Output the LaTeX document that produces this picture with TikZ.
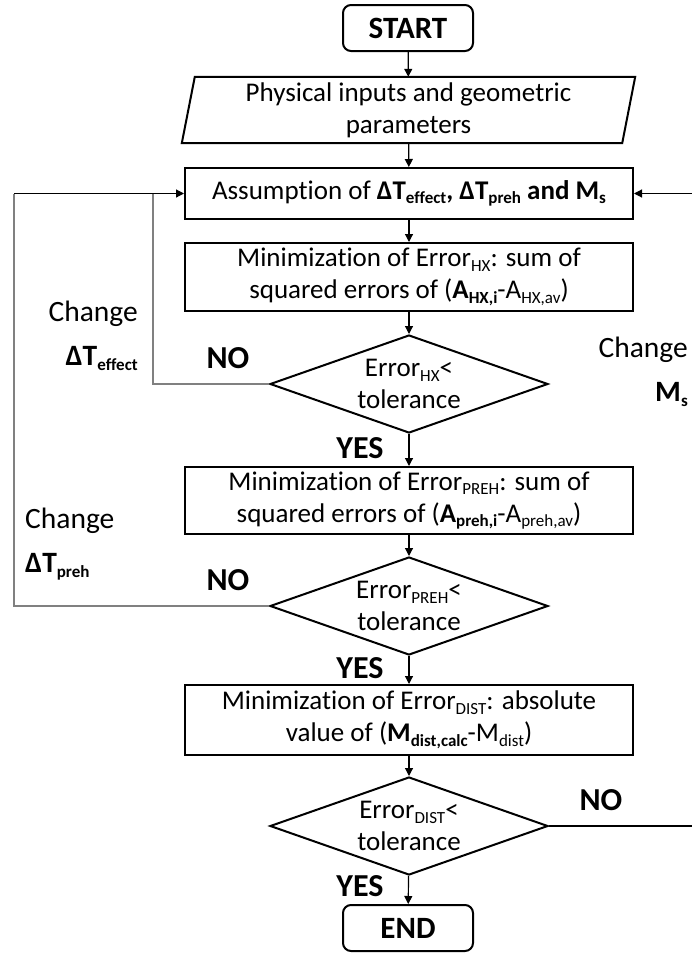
\documentclass[tikz,border=0pt]{standalone}
\usepackage{fontspec}
\setmainfont{Carlito}[Ligatures=NoCommon]
\usetikzlibrary{shapes.geometric,arrows.meta,calc}
% text-level subscript in the running font
\newcommand{\sbs}[1]{\raisebox{-0.35ex}{\fontsize{17}{17}\selectfont #1}}
\begin{document}
\begin{tikzpicture}[x=1pt,y=-1pt,
  font=\fontsize{27}{32}\selectfont,
  every node/.style={inner sep=0pt, align=center},
  boxstyle/.style={draw, line width=2pt, minimum width=448pt},
  termbox/.style={draw, line width=2pt, rounded corners=8pt, minimum width=130pt, minimum height=46pt, font=\fontsize{31}{32}\selectfont\bfseries},
  decision/.style={draw, line width=2pt, diamond, aspect=2.84, minimum width=278pt, minimum height=98pt},
  flow/.style={line width=1.2pt, -{Triangle[length=8pt,width=8pt]}},
  loopline/.style={line width=1.4pt, draw=black!50},
  answer/.style={font=\fontsize{32}{32}\selectfont\bfseries},
  note/.style={font=\fontsize{29.5}{44}\selectfont}
]
\useasboundingbox (0,0) rectangle (692,956);
\clip (0,0) rectangle (692,956);

% process blocks
\node[termbox] (start) at (408,28) {START};
\node[minimum width=427pt, minimum height=66pt] (inp) at (408.5,110)
  {Physical inputs and geometric\\parameters};
\draw[line width=2pt] (inp.north west) -- ($(inp.north east)+(13,0)$)
  -- (inp.south east) -- ($(inp.south west)+(-13,0)$) -- cycle;
\node[boxstyle, minimum height=51pt] (asm) at (409,193.5)
  {Assumption of \textbf{ΔT\sbs{effect}, ΔT\sbs{preh} and M\sbs{s}}};
\node[boxstyle, minimum height=68pt] (hx) at (409,277)
  {Minimization of Error\sbs{HX}: sum of\\squared errors of (\textbf{A\sbs{HX,i}}-A\sbs{HX,av})};
\node[decision] (d1) at (409,384) {Error\sbs{HX}<\\tolerance};
\node[boxstyle, minimum height=67pt] (preh) at (409,500.5)
  {Minimization of Error\sbs{PREH}: sum of\\squared errors of (\textbf{A\sbs{preh,i}}-A\sbs{preh,av})};
\node[decision] (d2) at (409,606) {Error\sbs{PREH}<\\tolerance};
\node[boxstyle, minimum height=70pt] (dist) at (409,720)
  {Minimization of Error\sbs{DIST}: absolute\\value of (\textbf{M\sbs{dist,calc}}-M\sbs{dist})};
\node[decision] (d3) at (409,826) {Error\sbs{DIST}<\\tolerance};
\node[termbox] (end) at (408,928) {END};

% main flow
\draw[flow] (start) -- (inp);
\draw[flow] (inp) -- (asm);
\draw[flow] (asm) -- (hx);
\draw[flow] (hx) -- (d1);
\draw[flow] (d1) -- (preh);
\draw[flow] (preh) -- (d2);
\draw[flow] (d2) -- (dist);
\draw[flow] (dist) -- (d3);
\draw[flow] (d3) -- (end);

% feedback loops
\coordinate (l1b) at (153,384);
\coordinate (l1t) at (153,193.5);
\coordinate (l2b) at (14,606);
\coordinate (l2t) at (14,193.5);
\coordinate (r3b) at (700,826);
\coordinate (r3t) at (700,193.5);
\draw[loopline] (d1.west) -- (l1b) -- (l1t);
\draw[loopline] (d2.west) -- (l2b) -- (l2t);
\draw[flow] (l2t) -- (asm.west);
\draw[line width=1.2pt] (d3.east) -- (r3b) -- (r3t);
\draw[flow] (r3t) -- (asm.east);

% branch labels
\node[answer] (no1) at (228,358) {NO};
\node[answer] (yes1) at (360,448) {YES};
\node[answer] (no2) at (228,580) {NO};
\node[answer] (yes2) at (360,668) {YES};
\node[answer] (no3) at (601,800) {NO};
\node[answer] (yes3) at (360,886) {YES};

% loop annotations
\node[note, align=right, anchor=east] (ch1) at (138,336) {Change\\\textbf{ΔT\sbs{effect}}};
\node[note, align=left, anchor=west] (ch2) at (25,544) {Change\\\textbf{ΔT\sbs{preh}}};
\node[note, align=right, anchor=east] (ch3) at (688,372) {Change\\\textbf{M\sbs{s}}};
\end{tikzpicture}
\end{document}
